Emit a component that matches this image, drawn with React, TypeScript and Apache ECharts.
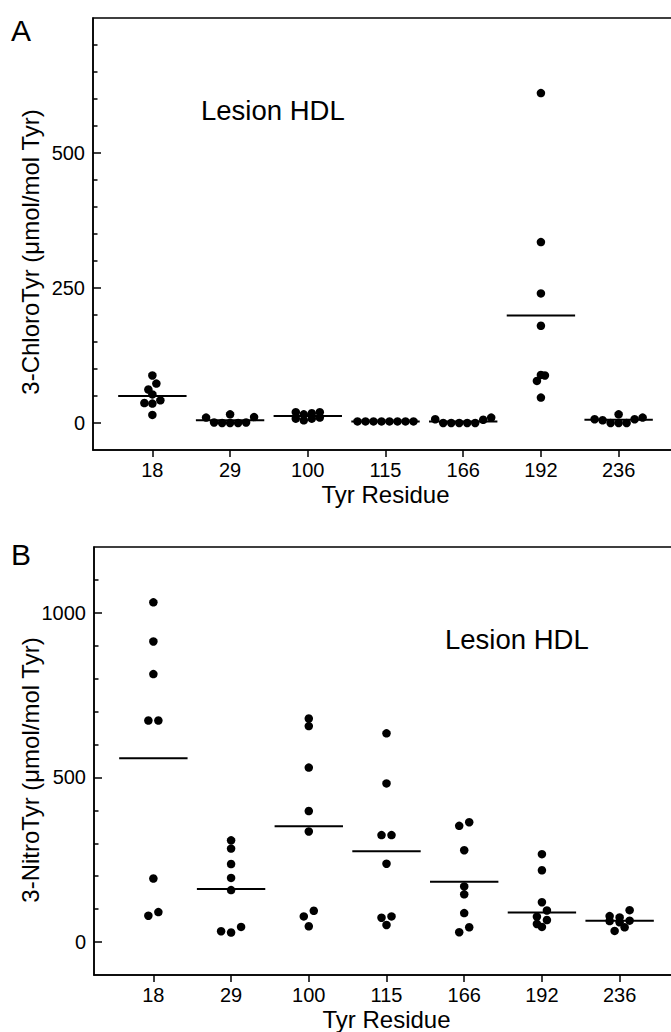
import React, { useEffect, useRef } from "react";
import * as echarts from "echarts";

const residues = ["18", "29", "100", "115", "166", "192", "236"];
const residueIndex = [0, 1, 2, 3, 4, 5, 6];

// Panel A: 3-ChloroTyr (µmol/mol Tyr), one list per residue
const chloro18 = [88, 73, 62, 53, 42, 36, 37, 15];
const chloro29 = [10, 1, 0, 16, 0, 0, 1, 11];
const chloro100 = [18, 10, 8, 20, 5, 8, 16, 20];
const chloro115 = [3, 3, 3, 3, 3, 3, 3, 3];
const chloro166 = [6, 0, 0, 0, 0, 0, 7, 10];
const chloro192 = [611, 335, 240, 180, 88, 78, 89, 47];
const chloro236 = [7, 5, 0, 16, 0, 0, 7, 10];
const chloroMean = [50, 5, 13, 3, 3, 199, 6];

// Panel B: 3-NitroTyr (µmol/mol Tyr)
const nitro18 = [1032, 913, 814, 673, 673, 193, 91, 80];
const nitro29 = [309, 284, 237, 195, 158, 33, 29, 46];
const nitro100 = [679, 656, 530, 398, 336, 78, 95, 48];
const nitro115 = [634, 482, 325, 325, 238, 74, 78, 52];
const nitro166 = [364, 353, 279, 169, 145, 88, 30, 45];
const nitro192 = [267, 218, 121, 96, 77, 67, 55, 46];
const nitro236 = [97, 75, 79, 64, 65, 60, 45, 34];
const nitroMean = [558, 161, 352, 276, 183, 90, 65];

const chloroMajorTicks = [0, 250, 500];
const chloroMinorTicks = [50, 100, 150, 200, 300, 350, 400, 450, 550, 600, 650, 700];
const nitroMajorTicks = [0, 500, 1000];
const nitroMinorTicks = [100, 200, 300, 400, 600, 700, 800, 900, 1100];

const chloroGroups = [chloro18, chloro29, chloro100, chloro115, chloro166, chloro192, chloro236];
const nitroGroups = [nitro18, nitro29, nitro100, nitro115, nitro166, nitro192, nitro236];

const FONT = "'Liberation Sans', Arial, Helvetica, sans-serif";

const GA = { left: 93, top: 18, width: 585, height: 432 };
const GB = { left: 94, top: 547, width: 585, height: 428 };
const XMIN = -0.764;
const XMAX = 6.764;
const A_RANGE: [number, number] = [-50, 750];
const B_RANGE: [number, number] = [-100, 1200];

// Prism-like scatter-dot layout: bin values into rows by pixel height, spread each row centre-out
function swarm(values: number[], idx: number, pxPerY: number, pxPerX: number, spacing: number, rowH: number) {
  const sorted = values.slice().sort((a, b) => a - b);
  const rows = new Map<number, number[]>();
  sorted.forEach((v) => {
    const b = Math.floor((v * pxPerY) / rowH);
    if (!rows.has(b)) rows.set(b, []);
    rows.get(b)!.push(v);
  });
  const pts: number[][] = [];
  rows.forEach((row) => {
    const n = row.length;
    const slots: number[] = [];
    if (n % 2 === 1) {
      slots.push(0);
      for (let k = 1; k <= (n - 1) / 2; k++) slots.push(-k, k);
    } else {
      for (let k = 0; k < n / 2; k++) slots.push(-(k + 0.5), k + 0.5);
    }
    row.forEach((v, i) => pts.push([idx + (slots[i] * spacing) / pxPerX, v]));
  });
  return pts;
}

function meanSeries(means: number[], axisIdx: number) {
  return {
    type: "custom",
    xAxisIndex: axisIdx,
    yAxisIndex: axisIdx * 2,
    data: means.map((m, i) => [residueIndex[i], m]),
    encode: { x: 0, y: 1 },
    z: 3,
    renderItem: (_p: any, api: any) => {
      const i = api.value(0);
      const m = api.value(1);
      const a = api.coord([i - 0.44, m]);
      const b = api.coord([i + 0.44, m]);
      return {
        type: "line",
        shape: { x1: a[0], y1: a[1], x2: b[0], y2: b[1] },
        style: { stroke: "#000", lineWidth: 2 },
      };
    },
  };
}

const lineStyle = { color: "#000", width: 1.5 };

function xAxis(gridIndex: number) {
  return {
    gridIndex,
    type: "value",
    min: XMIN,
    max: XMAX,
    axisLine: { show: true, onZero: false, lineStyle },
    axisTick: { show: true, inside: false, length: 7, customValues: residueIndex, lineStyle },
    axisLabel: {
      customValues: residueIndex,
      formatter: (v: number) => residues[Math.round(v)],
      color: "#000",
      fontSize: 20,
      fontFamily: FONT,
      margin: 10,
    },
    splitLine: { show: false },
    name: "Tyr Residue",
    nameLocation: "middle",
    nameGap: 32,
    nameTextStyle: { color: "#000", fontSize: 24, fontFamily: FONT },
  };
}

function yAxes(gridIndex: number, range: [number, number], major: number[], minor: number[]) {
  return [
    {
      gridIndex,
      type: "value",
      position: "left",
      min: range[0],
      max: range[1],
      axisLine: { show: true, onZero: false, lineStyle },
      axisTick: { show: true, inside: true, length: 8, customValues: major, lineStyle },
      axisLabel: {
        customValues: major,
        formatter: (v: number) => String(v),
        color: "#000",
        fontSize: 20,
        fontFamily: FONT,
        margin: 8,
      },
      splitLine: { show: false },
    },
    {
      gridIndex,
      type: "value",
      position: "left",
      min: range[0],
      max: range[1],
      axisLine: { show: false, onZero: false },
      axisTick: { show: true, inside: true, length: 4.5, customValues: minor, lineStyle },
      axisLabel: { show: false },
      splitLine: { show: false },
    },
  ];
}

export default function App() {
  const ref = useRef<HTMLDivElement>(null);
  useEffect(() => {
    if (!ref.current) return;
    const chart = echarts.init(ref.current, null, { renderer: "svg" });
    const pxPerX = GA.width / (XMAX - XMIN);
    const pxA = GA.height / (A_RANGE[1] - A_RANGE[0]);
    const pxB = GB.height / (B_RANGE[1] - B_RANGE[0]);
    const dotsA: number[][] = [];
    chloroGroups.forEach((g, i) => dotsA.push(...swarm(g, residueIndex[i], pxA, pxPerX, 8, 8)));
    const dotsB: number[][] = [];
    nitroGroups.forEach((g, i) => dotsB.push(...swarm(g, residueIndex[i], pxB, pxPerX, 10, 8)));

    const gridStyle = { show: true, borderColor: "#000", borderWidth: 1.5, backgroundColor: "transparent", containLabel: false };
    const titleStyle = { fontSize: 24, fontFamily: FONT, fill: "#000", align: "center", verticalAlign: "middle" };

    chart.setOption({
      animation: false,
      backgroundColor: "#fff",
      grid: [
        { ...gridStyle, ...GA },
        { ...gridStyle, ...GB },
      ],
      xAxis: [xAxis(0), xAxis(1)],
      yAxis: [
        ...yAxes(0, A_RANGE, chloroMajorTicks, chloroMinorTicks),
        ...yAxes(1, B_RANGE, nitroMajorTicks, nitroMinorTicks),
      ],
      graphic: [
        { type: "text", left: 11, top: 15, style: { text: "A", fontSize: 30, fontFamily: FONT, fill: "#000" } },
        { type: "text", left: 11, top: 539, style: { text: "B", fontSize: 30, fontFamily: FONT, fill: "#000" } },
        { type: "text", left: 201, top: 96, style: { text: "Lesion HDL", fontSize: 27.5, fontFamily: FONT, fill: "#000" } },
        { type: "text", left: 445, top: 625, style: { text: "Lesion HDL", fontSize: 27.5, fontFamily: FONT, fill: "#000" } },
        { type: "text", x: 30, y: 252, rotation: Math.PI / 2, style: { ...titleStyle, text: "3-ChloroTyr (μmol/mol Tyr)" } },
        { type: "text", x: 30, y: 770, rotation: Math.PI / 2, style: { ...titleStyle, text: "3-NitroTyr (μmol/mol Tyr)" } },
      ],
      series: [
        {
          type: "scatter",
          xAxisIndex: 0,
          yAxisIndex: 0,
          data: dotsA,
          symbol: "circle",
          symbolSize: 8.5,
          itemStyle: { color: "#000", opacity: 1 },
          z: 4,
        },
        meanSeries(chloroMean, 0),
        {
          type: "scatter",
          xAxisIndex: 1,
          yAxisIndex: 2,
          data: dotsB,
          symbol: "circle",
          symbolSize: 8.5,
          itemStyle: { color: "#000", opacity: 1 },
          z: 4,
        },
        meanSeries(nitroMean, 1),
      ],
    });
    return () => chart.dispose();
  }, []);
  return (
    <div
      ref={ref}
      style={{ position: "fixed", left: 0, top: 0, width: 700, height: 1032, background: "#fff" }}
    />
  );
}
